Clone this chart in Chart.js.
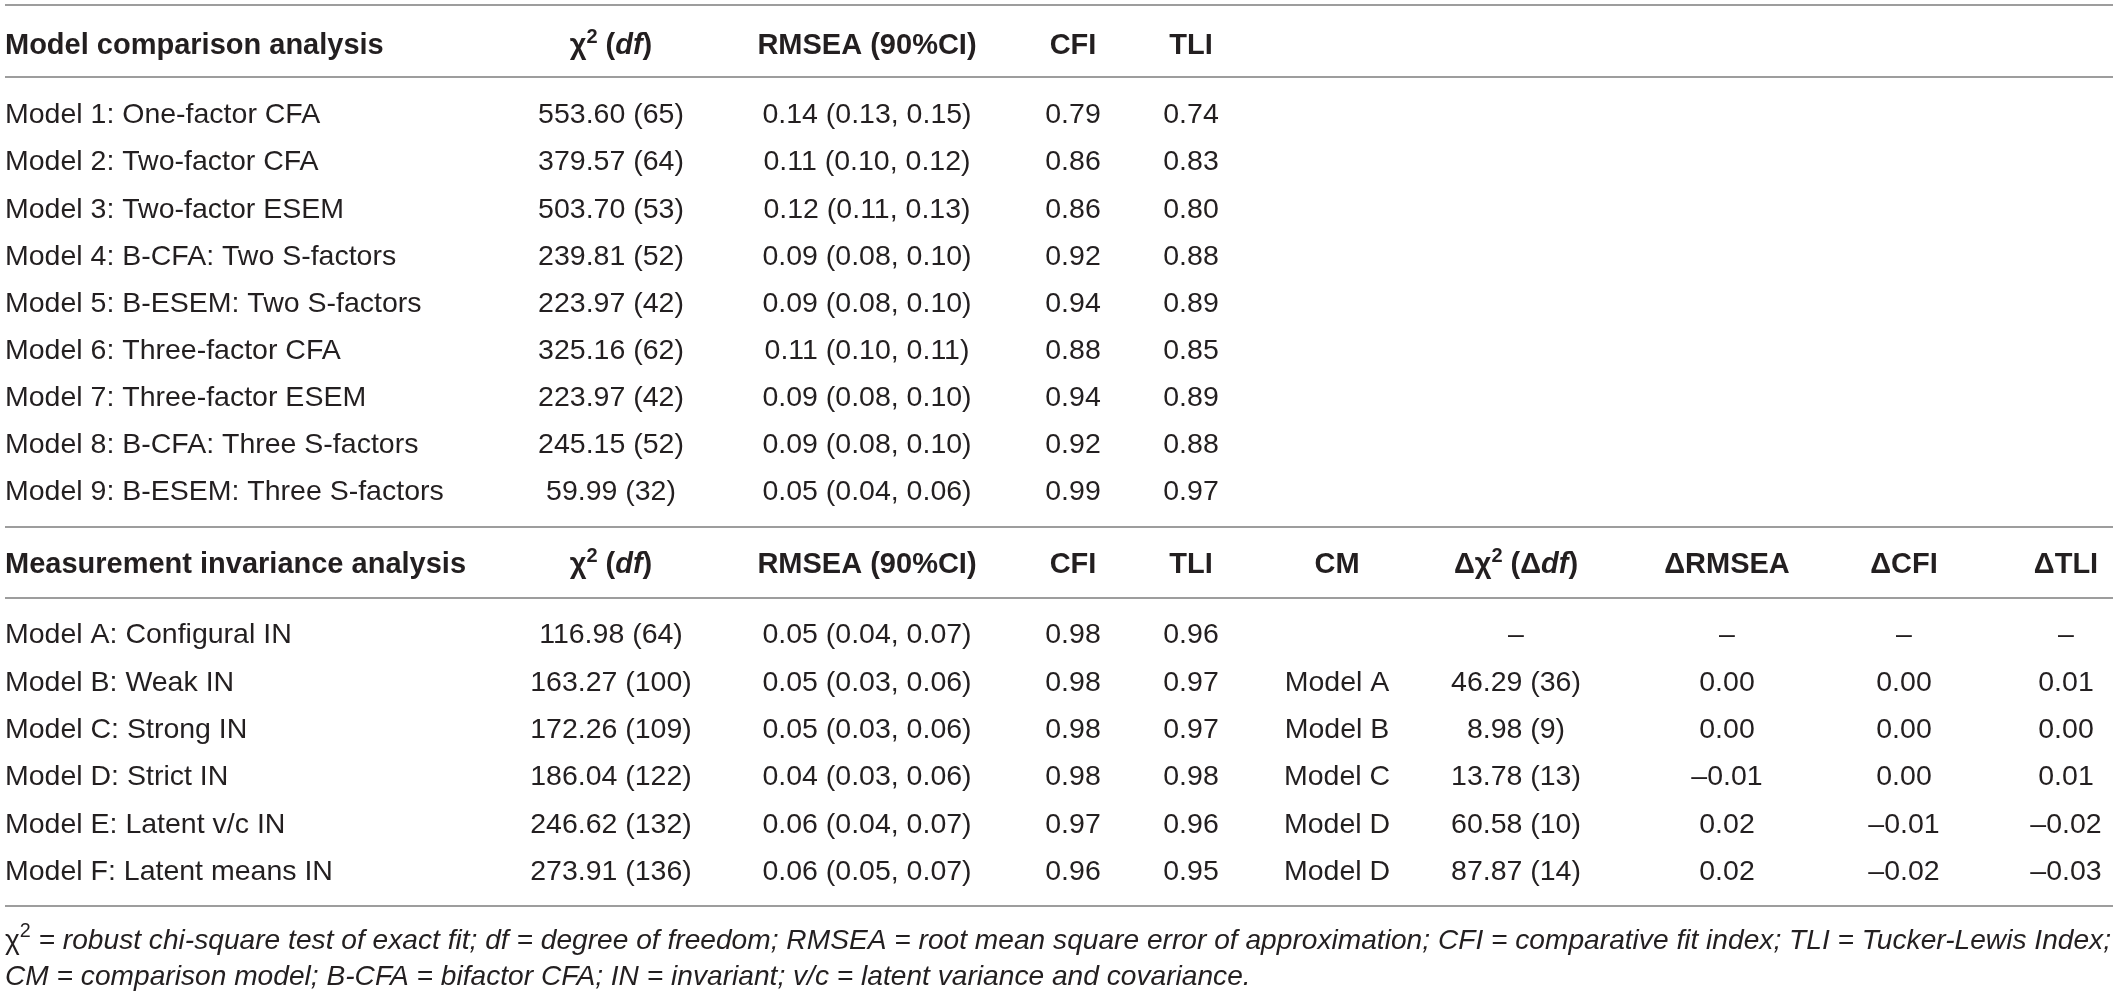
<!DOCTYPE html>
<html>
<head>
<meta charset="utf-8">
<script src="https://cdn.jsdelivr.net/npm/chart.js@4"></script>
<style>
  html, body { margin: 0; padding: 0; background: #ffffff; }
  #wrap { width: 2117px; height: 997px; position: relative; }
</style>
</head>
<body>
<div id="wrap"><canvas id="c"></canvas></div>
<script>
// ---------------- DATA ----------------
const headers1 = ['Model comparison analysis', 'χ^2 (*df*)', 'RMSEA (90%CI)', 'CFI', 'TLI'];
const headers2 = ['Measurement invariance analysis', 'χ^2 (*df*)', 'RMSEA (90%CI)', 'CFI', 'TLI',
                  'CM', 'Δχ^2 (Δ*df*)', 'ΔRMSEA', 'ΔCFI', 'ΔTLI'];

const models1 = ['Model 1: One-factor CFA', 'Model 2: Two-factor CFA', 'Model 3: Two-factor ESEM',
                 'Model 4: B-CFA: Two S-factors', 'Model 5: B-ESEM: Two S-factors', 'Model 6: Three-factor CFA',
                 'Model 7: Three-factor ESEM', 'Model 8: B-CFA: Three S-factors', 'Model 9: B-ESEM: Three S-factors'];
const chi1   = [553.60, 379.57, 503.70, 239.81, 223.97, 325.16, 223.97, 245.15, 59.99];
const df1    = [65, 64, 53, 52, 42, 62, 42, 52, 32];
const rmsea1 = [0.14, 0.11, 0.12, 0.09, 0.09, 0.11, 0.09, 0.09, 0.05];
const rmLo1  = [0.13, 0.10, 0.11, 0.08, 0.08, 0.10, 0.08, 0.08, 0.04];
const rmHi1  = [0.15, 0.12, 0.13, 0.10, 0.10, 0.11, 0.10, 0.10, 0.06];
const cfi1   = [0.79, 0.86, 0.86, 0.92, 0.94, 0.88, 0.94, 0.92, 0.99];
const tli1   = [0.74, 0.83, 0.80, 0.88, 0.89, 0.85, 0.89, 0.88, 0.97];

const models2 = ['Model A: Configural IN', 'Model B: Weak IN', 'Model C: Strong IN',
                 'Model D: Strict IN', 'Model E: Latent v/c IN', 'Model F: Latent means IN'];
const chi2   = [116.98, 163.27, 172.26, 186.04, 246.62, 273.91];
const df2    = [64, 100, 109, 122, 132, 136];
const rmsea2 = [0.05, 0.05, 0.05, 0.04, 0.06, 0.06];
const rmLo2  = [0.04, 0.03, 0.03, 0.03, 0.04, 0.05];
const rmHi2  = [0.07, 0.06, 0.06, 0.06, 0.07, 0.07];
const cfi2   = [0.98, 0.98, 0.98, 0.98, 0.97, 0.96];
const tli2   = [0.96, 0.97, 0.97, 0.98, 0.96, 0.95];
const cmodel = [null, 'Model A', 'Model B', 'Model C', 'Model D', 'Model D'];
const dChi   = [null, 46.29, 8.98, 13.78, 60.58, 87.87];
const dDf    = [null, 36, 9, 13, 10, 14];
const dRmsea = [null, 0.00, 0.00, -0.01, 0.02, 0.02];
const dCfi   = [null, 0.00, 0.00, 0.00, -0.01, -0.02];
const dTli   = [null, 0.01, 0.00, 0.01, -0.02, -0.03];

const footnotes = [
  'χ^2* = robust chi-square test of exact fit; df = degree of freedom; RMSEA = root mean square error of approximation; CFI = comparative fit index; TLI = Tucker-Lewis Index;*',
  '*CM = comparison model; B-CFA = bifactor CFA; IN = invariant; v/c = latent variance and covariance.*'
];

// ---------------- LAYOUT ----------------
const W = 2117, H = 997;
const U = 23.55;                       // vertical unit (px)
const COL_X = [5, 611, 867, 1073, 1191, 1337, 1516, 1727, 1904, 2066];
const RULE_X = [5, 2113];
const RULES = [0.21, 3.27, 22.38, 25.39, 38.47];
const SEC1 = { header: 1.84, first: 4.8, pitch: 2.0 };
const SEC2 = { header: 23.9, first: 26.88, pitch: 2.012 };
const FOOT = [39.85, 41.38];
const FOOT_W = 2106;
const FAM = '"Liberation Sans", Arial, Helvetica, sans-serif';
const SZ = 28.5, HSZ = 29;
const TXT = '#231f20';

// ---------------- helpers ----------------
const f2 = v => (v < 0 ? '–' : '') + Math.abs(v).toFixed(2);
const cellsSec1 = models1.map((m, i) => [m, chi1[i].toFixed(2) + ' (' + df1[i] + ')',
  f2(rmsea1[i]) + ' (' + f2(rmLo1[i]) + ', ' + f2(rmHi1[i]) + ')', f2(cfi1[i]), f2(tli1[i])]);
const cellsSec2 = models2.map((m, i) => [m, chi2[i].toFixed(2) + ' (' + df2[i] + ')',
  f2(rmsea2[i]) + ' (' + f2(rmLo2[i]) + ', ' + f2(rmHi2[i]) + ')', f2(cfi2[i]), f2(tli2[i]),
  cmodel[i] || '', dChi[i] == null ? '–' : dChi[i].toFixed(2) + ' (' + dDf[i] + ')',
  dRmsea[i] == null ? '–' : f2(dRmsea[i]), dCfi[i] == null ? '–' : f2(dCfi[i]), dTli[i] == null ? '–' : f2(dTli[i])]);

// one scatter dataset per column; points placed through the library's scales
const nCols = COL_X.length;
const datasets = [];
for (let c = 0; c < nCols; c++) {
  const pts = [];
  cellsSec1.forEach((row, r) => { if (c < row.length) pts.push({ x: COL_X[c], y: SEC1.first + r * SEC1.pitch, text: row[c] }); });
  cellsSec2.forEach((row, r) => { if (c < row.length && row[c] !== '') pts.push({ x: COL_X[c], y: SEC2.first + r * SEC2.pitch, text: row[c] }); });
  datasets.push({ label: 'col' + c, data: pts, pointRadius: 0, pointHoverRadius: 0, showLine: false, align: c === 0 ? 'left' : 'center' });
}

function parseRuns(str, base, italic, sup) {
  // ^x -> superscript char ; *...* -> toggle italic
  const runs = [];
  let ital = false, buf = '';
  const push = () => { if (buf) { runs.push({ t: buf, font: (ital ? italic : base), dy: 0 }); buf = ''; } };
  for (let i = 0; i < str.length; i++) {
    const ch = str[i];
    if (ch === '*') { push(); ital = !ital; }
    else if (ch === '^') { push(); runs.push({ t: str[i + 1], font: sup.font, dy: sup.dy }); i++; }
    else buf += ch;
  }
  push();
  return runs;
}
function drawRuns(ctx, runs, x, base, align, sx) {
  sx = sx || 1;
  let w = 0;
  runs.forEach(r => { ctx.font = r.font; r.w = ctx.measureText(r.t).width; w += r.w; });
  let cx = align === 'center' ? x - (w * sx) / 2 : x;
  ctx.save();
  ctx.translate(cx, base);
  ctx.scale(sx, 1);
  let px = 0;
  runs.forEach(r => { ctx.font = r.font; ctx.fillText(r.t, px, r.dy); px += r.w; });
  ctx.restore();
  return w;
}

const tablePlugin = {
  id: 'tableText',
  afterDatasetsDraw(chart) {
    const ctx = chart.ctx, xs = chart.scales.x, ys = chart.scales.y;
    ctx.save();
    // rules
    ctx.strokeStyle = '#9d9d9d';
    ctx.lineWidth = 2;
    RULES.forEach(s => {
      const y = ys.getPixelForValue(s);
      ctx.beginPath(); ctx.moveTo(xs.getPixelForValue(RULE_X[0]), y); ctx.lineTo(xs.getPixelForValue(RULE_X[1]), y); ctx.stroke();
    });
    ctx.fillStyle = TXT;
    ctx.textBaseline = 'alphabetic';
    ctx.textAlign = 'left';
    const capOff = SZ * 0.36;
    // body cells
    chart.data.datasets.forEach((ds, di) => {
      const meta = chart.getDatasetMeta(di);
      meta.data.forEach((el, i) => {
        const txt = ds.data[i].text;
        ctx.font = SZ + 'px ' + FAM;
        const w = ctx.measureText(txt).width;
        const x = ds.align === 'left' ? el.x : el.x - w / 2;
        ctx.fillText(txt, x, el.y + capOff);
      });
    });
    // headers
    const bold = 'bold ' + HSZ + 'px ' + FAM, boldIt = 'italic bold ' + HSZ + 'px ' + FAM;
    const sup = { font: 'bold 20px ' + FAM, dy: -11 };
    [[headers1, SEC1.header], [headers2, SEC2.header]].forEach(([hs, slot]) => {
      const y = ys.getPixelForValue(slot) + HSZ * 0.36;
      hs.forEach((h, c) => {
        const runs = parseRuns(h, bold, boldIt, sup);
        drawRuns(ctx, runs, xs.getPixelForValue(COL_X[c]), y, c === 0 ? 'left' : 'center');
      });
    });
    // footnotes
    const fr = 'italic ' + SZ + 'px ' + FAM, fu = SZ + 'px ' + FAM;
    const fsup = { font: '20px ' + FAM, dy: -12 };
    const runsAll = footnotes.map(f => parseRuns(f, fu, fr, fsup));
    let w0 = 0;
    runsAll[0].forEach(r => { ctx.font = r.font; w0 += ctx.measureText(r.t).width; });
    const sx = FOOT_W / w0;
    runsAll.forEach((runs, i) => {
      drawRuns(ctx, runs, xs.getPixelForValue(5), ys.getPixelForValue(FOOT[i]) + SZ * 0.36, 'left', sx);
    });
    ctx.restore();
  }
};

new Chart(document.getElementById('c'), {
  type: 'scatter',
  data: { datasets },
  options: {
    responsive: true,
    maintainAspectRatio: false,
    devicePixelRatio: 1,
    animation: false,
    events: [],
    layout: { padding: 0 },
    plugins: { legend: { display: false }, tooltip: { enabled: false }, title: { display: false } },
    scales: {
      x: { type: 'linear', min: 0, max: W, display: false },
      y: { type: 'linear', min: 0, max: H / U, reverse: true, display: false }
    }
  },
  plugins: [tablePlugin]
});
</script>
</body>
</html>
